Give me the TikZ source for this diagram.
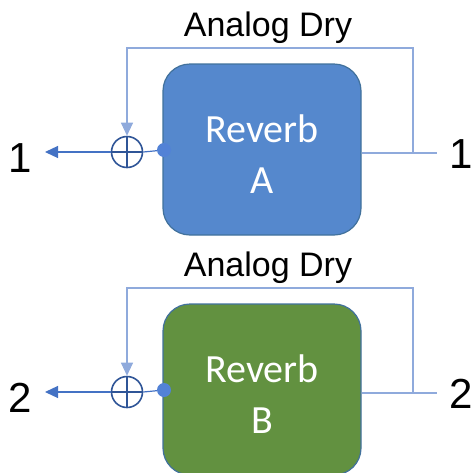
\documentclass[tikz,border=0pt]{standalone}
\usepackage{fontspec}
\setmainfont{Liberation Sans}
\newfontfamily\revfont{Carlito}
\usetikzlibrary{arrows.meta,calc,positioning}
\definecolor{RevBlue}{RGB}{85,136,205}
\definecolor{RevGreen}{RGB}{98,145,64}
\definecolor{EdgeBlue}{RGB}{65,113,156}
\definecolor{WireBlue}{RGB}{68,114,196}
\definecolor{DotBlue}{RGB}{82,130,214}
\definecolor{DryBlue}{RGB}{143,170,220}
\definecolor{SumBlue}{RGB}{47,85,151}
\tikzset{
  revbox/.style={draw=EdgeBlue,line width=1.2pt,rounded corners=27pt,minimum width=198pt,minimum height=171pt},
  revtext/.style={text=white,align=center,inner sep=0pt,font=\revfont\fontsize{40}{51}\selectfont},
  sumnode/.style={circle,draw=SumBlue,line width=1.6pt,minimum size=31pt,inner sep=0pt,
    path picture={\draw[SumBlue,line width=1.4pt] (path picture bounding box.north) -- (path picture bounding box.south) (path picture bounding box.west) -- (path picture bounding box.east);}},
  dotnode/.style={circle,fill=DotBlue,minimum size=14pt,inner sep=0pt},
  wire/.style={WireBlue,line width=1.2pt},
  dry/.style={DryBlue,line width=1.1pt},
  tip/.style={-{Triangle[length=13pt,width=12pt]}},
  port/.style={inner sep=0pt,font=\fontsize{42}{42}\selectfont},
  drylabel/.style={font=\fontsize{34}{34}\selectfont,anchor=base}
}
\begin{document}
\begin{tikzpicture}[x=1pt,y=-1pt]
\useasboundingbox (0,0) rectangle (474,472);
\foreach \i/\lab/\col/\n in {0/A/RevBlue/1,1/B/RevGreen/2}{
  \begin{scope}[yshift=-240*\i pt]
  \node[revbox,fill=\col] (box\lab) at (262,149.5) {};
  \node[revtext] (name\lab) at (262,154) {Reverb\\\lab};
  \node[sumnode] (sum\lab) at (127,152) {};
  \node[dotnode] (dot\lab) at (164,150) {};
  \coordinate (out\lab) at (45,152);
  \coordinate (in\lab) at (437,153);
  \coordinate (tap\lab) at (413,153);
  \coordinate (top\lab) at (127,48);
  \draw[wire] (dot\lab) -- (sum\lab.east);
  \draw[wire,tip] (sum\lab.west) -- (out\lab);
  \draw[dry] (box\lab.east |- in\lab) -- (in\lab);
  \draw[dry,tip] (tap\lab) -- (tap\lab |- top\lab) -- (top\lab) -- (sum\lab.north);
  \node[port] (left\lab) at (20,158) {\n};
  \node[port] (right\lab) at (461,154) {\n};
  \node[drylabel] (dry\lab) at (268,36) {Analog Dry};
  \end{scope}
}
\end{tikzpicture}
\end{document}
